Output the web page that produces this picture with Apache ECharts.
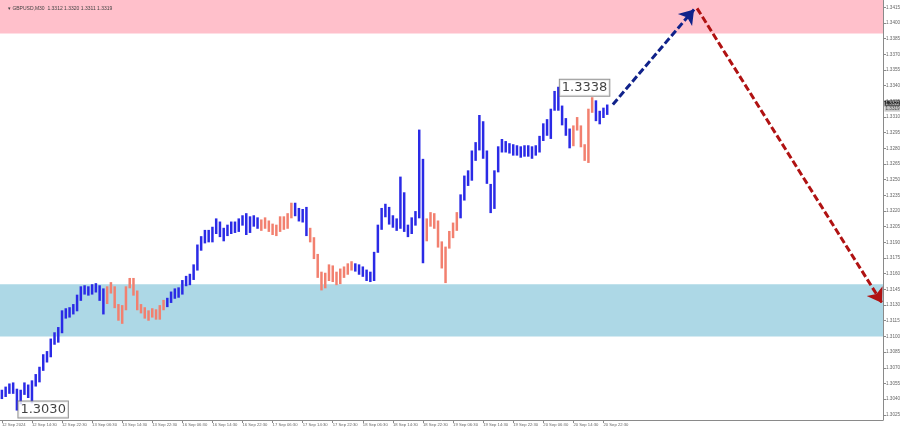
<!DOCTYPE html>
<html><head><meta charset="utf-8">
<script src="https://cdn.jsdelivr.net/npm/echarts@6/dist/echarts.min.js"></script>
<style>html,body{margin:0;padding:0;background:#fff}#c{width:900px;height:432px}</style>
</head><body><div id="c"></div>
<script>
const symbolTitle = '\u25BE GBPUSD,M30  1.3312 1.3320 1.3311 1.3319';
const xTickLabels = ['12 Sep 2024','12 Sep 14:30','12 Sep 22:30','13 Sep 06:30','13 Sep 14:30','13 Sep 22:30','16 Sep 06:30','16 Sep 14:30','16 Sep 22:30','17 Sep 06:30','17 Sep 14:30','17 Sep 22:30','18 Sep 06:30','18 Sep 14:30','18 Sep 22:30','19 Sep 06:30','19 Sep 14:30','19 Sep 22:30','20 Sep 06:30','20 Sep 14:30','20 Sep 22:30'];
const barsPerLabel = 16;      // M30 bars between date labels
const m30PerBar = 2;          // each drawn bar spans one hour
const yTicks = [1.3025,1.3040,1.3055,1.3070,1.3085,1.3100,1.3115,1.3130,1.3145,1.3160,1.3175,1.3190,1.3205,1.3220,1.3235,1.3250,1.3265,1.3280,1.3295,1.3310,1.3325,1.3340,1.3355,1.3370,1.3385,1.3400,1.3415];

const highs = [
1.3048,1.3051,1.3054,1.3055,1.3049,1.3048,1.3055,1.3053,1.3057,1.3063,
1.3070,1.3082,1.3085,1.3097,1.3103,1.3108,1.3124,1.3126,1.3127,1.3130,
1.3139,1.3147,1.3148,1.3147,1.3149,1.3150,1.3148,1.3145,1.3147,1.3151,
1.3147,1.3130,1.3129,1.3147,1.3155,1.3155,1.3143,1.3130,1.3127,1.3124,
1.3126,1.3125,1.3129,1.3134,1.3136,1.3142,1.3145,1.3146,1.3153,1.3157,
1.3159,1.3168,1.3187,1.3195,1.3201,1.3201,1.3204,1.3212,1.3209,1.3203,
1.3206,1.3209,1.3209,1.3212,1.3215,1.3217,1.3214,1.3215,1.3213,1.3211,
1.3213,1.3210,1.3207,1.3206,1.3214,1.3214,1.3217,1.3227,1.3227,1.3222,
1.3221,1.3223,1.3203,1.3194,1.3178,1.3161,1.3160,1.3168,1.3167,1.3161,
1.3164,1.3166,1.3169,1.3171,1.3169,1.3168,1.3166,1.3163,1.3161,1.3180,
1.3206,1.3222,1.3226,1.3223,1.3215,1.3212,1.3252,1.3237,1.3206,1.3213,
1.3219,1.3297,1.3269,1.3212,1.3218,1.3217,1.3210,1.3190,1.3185,1.3200,
1.3208,1.3218,1.3235,1.3253,1.3258,1.3277,1.3285,1.3311,1.3305,1.3277,
1.3245,1.3258,1.3281,1.3288,1.3286,1.3284,1.3283,1.3282,1.3281,1.3282,
1.3282,1.3281,1.3282,1.3291,1.3303,1.3307,1.3317,1.3334,1.3338,1.3320,
1.3308,1.3298,1.3301,1.3309,1.3301,1.3283,1.3317,1.3328,1.3325,1.3315,
1.3318,1.3321];
const lows = [
1.3041,1.3043,1.3046,1.3046,1.3030,1.3036,1.3045,1.3042,1.3037,1.3053,
1.3057,1.3068,1.3076,1.3081,1.3093,1.3095,1.3104,1.3118,1.3119,1.3122,
1.3125,1.3135,1.3141,1.3140,1.3141,1.3143,1.3135,1.3122,1.3132,1.3142,
1.3128,1.3116,1.3113,1.3126,1.3147,1.3140,1.3126,1.3123,1.3118,1.3116,
1.3119,1.3117,1.3117,1.3126,1.3129,1.3133,1.3137,1.3138,1.3141,1.3149,
1.3150,1.3155,1.3164,1.3183,1.3190,1.3191,1.3191,1.3199,1.3196,1.3192,
1.3197,1.3199,1.3200,1.3201,1.3207,1.3198,1.3200,1.3206,1.3204,1.3202,
1.3204,1.3201,1.3198,1.3197,1.3201,1.3203,1.3204,1.3214,1.3216,1.3211,
1.3210,1.3197,1.3191,1.3175,1.3157,1.3145,1.3147,1.3154,1.3153,1.3150,
1.3151,1.3157,1.3160,1.3164,1.3163,1.3160,1.3158,1.3154,1.3153,1.3154,
1.3181,1.3203,1.3215,1.3208,1.3205,1.3202,1.3204,1.3201,1.3196,1.3199,
1.3207,1.3214,1.3171,1.3192,1.3206,1.3204,1.3186,1.3166,1.3152,1.3185,
1.3195,1.3202,1.3214,1.3231,1.3245,1.3250,1.3269,1.3279,1.3271,1.3247,
1.3219,1.3223,1.3258,1.3277,1.3277,1.3276,1.3274,1.3274,1.3272,1.3273,
1.3273,1.3271,1.3274,1.3277,1.3288,1.3293,1.3290,1.3317,1.3317,1.3303,
1.3293,1.3281,1.3283,1.3298,1.3282,1.3269,1.3267,1.3315,1.3307,1.3304,
1.3310,1.3313];

// wave segments: first bar of each wave and its direction
const waveStarts = [0,28,44,69,78,82,94,113,122,152,158];
const waveDirs   = ['up','down','up','down','up','down','up','down','up','down','up'];

const resistanceZone = [1.3390, 1.3422];
const supportZone = [1.3100, 1.3150];
const waveLabels = [[8, 1.3030, '1.3030'], [296, 1.3338, '1.3338']];
const forecastUp = [[325, 1.3322], [368.2, 1.3413]];
const forecastDown = [[369.8, 1.3414], [468.2, 1.3132]];
const priceTags = [[1.3323, '1.3322'], [1.3318, '1.3319']];

const X_MIN = -1, X_MAX = 468.7;
function dirOf(i){ let d = waveDirs[0]; for (let k=0;k<waveStarts.length;k++){ if (i>=waveStarts[k]) d = waveDirs[k]; } return d; }
const barData = highs.map((h,i)=>[i*m30PerBar, h, lows[i], dirOf(i)==='up'?1:0]);

const UP = '#2a2ae6', DOWN = '#f2806f';
const SMALL = 'Liberation Sans';
const chart = echarts.init(document.getElementById('c'), null, {renderer:'canvas'});
chart.setOption({
  animation:false,
  backgroundColor:'#fff',
  title:{text:symbolTitle, left:3, top:1, textStyle:{fontSize:5, color:'#444', fontWeight:'normal', fontFamily:SMALL}},
  grid:{left:0, right:17, top:0, bottom:12, show:false, containLabel:false, outerBoundsMode:'none'},
  xAxis:[{type:'value', min:X_MIN, max:X_MAX, position:'bottom',
    axisLine:{show:true, onZero:false, lineStyle:{color:'#8a8a8a', width:1}},
    axisTick:{show:true, length:3, customValues: xTickLabels.map((_,k)=>k*barsPerLabel), lineStyle:{color:'#8a8a8a'}},
    axisLabel:{show:true, interval:0, hideOverlap:false, showMinLabel:true, customValues: xTickLabels.map((_,k)=>k*barsPerLabel), formatter:v=>xTickLabels[Math.round(v/barsPerLabel)]||'', fontSize:4.2, color:'#666', align:'left', margin:3, fontFamily:SMALL},
    splitLine:{show:false}},
    {type:'value', min:X_MIN, max:X_MAX, position:'top',
    axisLine:{show:true, onZero:false, lineStyle:{color:'#9a9a9a', width:1}},
    axisTick:{show:false}, axisLabel:{show:false}, splitLine:{show:false}}],
  yAxis:{type:'value', position:'right', min:1.3020, max:1.3422, scale:true,
    axisLine:{show:true, onZero:false, lineStyle:{color:'#8a8a8a', width:1}},
    axisTick:{show:true, length:3, customValues:yTicks, lineStyle:{color:'#8a8a8a'}},
    axisLabel:{show:true, interval:0, hideOverlap:false, customValues:yTicks, formatter:v=>v.toFixed(4), fontSize:4.6, color:'#666', margin:3, fontFamily:SMALL},
    splitLine:{show:false}},
  series:[
    {type:'line', data:[], z:1, silent:true,
      markArea:{silent:true, data:[
        [{yAxis:resistanceZone[0], itemStyle:{color:'#ffc0cb', opacity:1}}, {yAxis:resistanceZone[1]}],
        [{yAxis:supportZone[0], itemStyle:{color:'#add8e6', opacity:1}}, {yAxis:supportZone[1]}]
      ]}},
    {type:'custom', z:3, data:barData, encode:{x:0, y:[1,2]},
      renderItem:(params, api)=>{
        const x = api.value(0);
        const t = api.coord([x, api.value(1)]);
        const b = api.coord([x, api.value(2)]);
        return {type:'rect', shape:{x:t[0]-1.25, y:t[1]-1, width:2.5, height:Math.max(1, b[1]-t[1]+2)},
          style:{fill: api.value(3)===1 ? UP : DOWN}};
      }
    },
    {type:'lines', coordinateSystem:'cartesian2d', z:4, polyline:false,
      data:[{coords:forecastUp}], symbol:['none','arrow'], symbolSize:14,
      lineStyle:{color:'#10228a', width:3, type:[7,3], opacity:1}},
    {type:'lines', coordinateSystem:'cartesian2d', z:4, polyline:false,
      data:[{coords:forecastDown}], symbol:['none','arrow'], symbolSize:14,
      lineStyle:{color:'#b01212', width:3, type:[7,3], opacity:1}},
    {type:'scatter', z:5, data:waveLabels, symbolSize:1, itemStyle:{color:'rgba(0,0,0,0)'},
      label:{show:true, position:'right', distance:1, formatter:p=>p.data[2], fontSize:13, fontFamily:'DejaVu Sans', color:'#111',
        backgroundColor:'#fff', borderColor:'#777', borderWidth:1, padding:[2,2,1,2]}},
    {type:'scatter', z:6, clip:false, symbolSize:1, itemStyle:{color:'rgba(0,0,0,0)'},
      data: priceTags.map((p,k)=>({value:[X_MAX, p[0]], name:p[1],
        label:{color: k===0?'#fff':'#222', backgroundColor: k===0?'#000':'#bbb'}})),
      label:{show:true, position:'right', distance:1, formatter:p=>p.name, fontSize:4.6, padding:[1,1,0,1], fontFamily:SMALL}}
  ]
});
</script></body></html>
